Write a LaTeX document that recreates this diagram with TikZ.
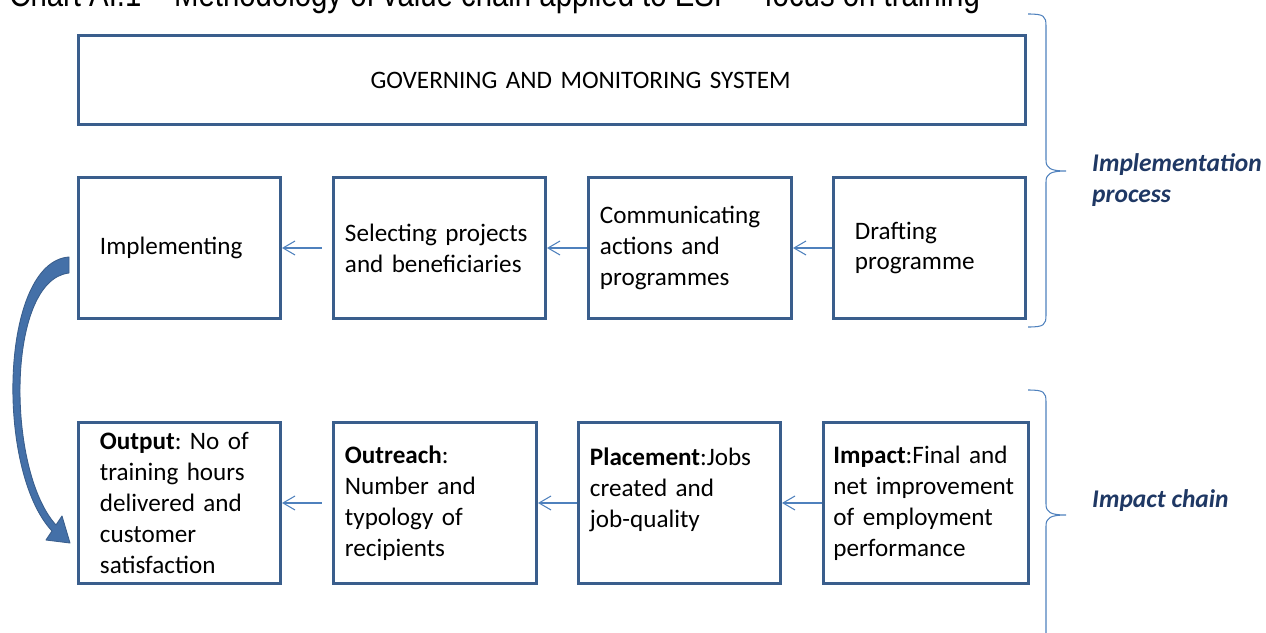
\documentclass[tikz,border=0pt]{standalone}
\usepackage{fontspec}
\setmainfont{Carlito}
\newfontfamily\titlefont{Liberation Sans}[FakeStretch=0.835]
\usepackage{tikz}
\usetikzlibrary{arrows.meta,positioning}
\usepackage{xcolor}
\definecolor{frameblue}{RGB}{58,94,140}
\definecolor{arrowblue}{RGB}{79,129,189}
\definecolor{bendblue}{RGB}{68,112,168}
\definecolor{labelblue}{RGB}{31,56,100}
\frenchspacing

\begin{document}
\begin{tikzpicture}[x=0.2mm, y=-0.2mm]
\tikzstyle{stage} = [rectangle, draw=frameblue, line width=1.7pt, align=left, inner ysep=0pt, font=\fontsize{14.3}{17.6}\selectfont];
\tikzstyle{flow} = [draw=arrowblue, line width=0.6pt, -{Straight Barb[length=2.4mm, width=2.8mm]}];
\tikzstyle{side} = [align=left, text=labelblue, font=\fontsize{14.5}{17.6}\selectfont\bfseries\itshape];
\tikzstyle{bracket} = [draw=arrowblue, line width=0.6pt];

\useasboundingbox (0,0) rectangle (1266,633);
\clip (0,0) rectangle (1266,633);

% heading, cut at the top edge
\node (title) [anchor=base west, inner sep=0pt, font=\titlefont\fontsize{20}{24}\selectfont] at (9,7) {Chart AI.1 – Methodology of value chain applied to ESF – focus on training};

% implementation process
\node (govern) [stage, align=right, minimum width=189.4mm, minimum height=17.8mm, inner xsep=47mm, text width=95.4mm] at (552,80) {GOVERNING AND MONITORING SYSTEM};

\node (impl) [stage, minimum width=40.4mm, minimum height=28.2mm, inner xsep=4.3mm, text width=31.8mm, below=10mm of govern.south west, anchor=north west] {Implementing};
\node (select) [stage, minimum width=42.4mm, minimum height=28.2mm, inner xsep=2.3mm, text width=37.8mm, right=10mm of impl] {Selecting projects\\and beneficiaries};
\node (comm) [stage, minimum width=40.6mm, minimum height=28.2mm, inner xsep=2.3mm, text width=36mm, right=8mm of select] {Communicating\\actions and\\programmes};
\node (draft) [stage, minimum width=38.4mm, minimum height=28.2mm, inner xsep=4.3mm, text width=29.8mm, right=7.8mm of comm] {Drafting\\programme};

% impact chain
\node (output) [stage, minimum width=40.4mm, minimum height=32.2mm, inner xsep=4.3mm, text width=31.8mm, below=20.2mm of impl.south west, anchor=north west] {\textbf{Output}: No of\\training hours\\delivered and\\customer\\satisfaction};
\node (outreach) [stage, minimum width=40.6mm, minimum height=32.2mm, inner xsep=2.3mm, text width=36mm, right=10mm of output] {\textbf{Outreach}:\\Number and\\typology of\\recipients};
\node (place) [stage, minimum width=40.4mm, minimum height=32.2mm, inner xsep=2.3mm, text width=35.8mm, right=7.8mm of outreach] {\textbf{Placement}:Jobs\\created and\\job-quality\\~};
\node (impact) [stage, minimum width=40.4mm, minimum height=32.2mm, inner xsep=2mm, text width=37mm, right=8mm of place] {\textbf{Impact}:Final and\\net improvement\\of employment\\performance};

% small arrows, right to left
\draw[flow, shorten <=2mm] (select) -- (impl);
\draw[flow] (comm) -- (select);
\draw[flow] (draft) -- (comm);
\draw[flow, shorten <=2mm] (outreach) -- (output);
\draw[flow] (place) -- (outreach);
\draw[flow] (impact) -- (place);

% bent block arrow down the left side
\filldraw[fill=bendblue, draw=frameblue, line width=0.5pt, line join=round]
  (69,257) .. controls (0,262) and (-5,470) .. (52,531)
  -- (46,540) -- (70,543) -- (62,516) -- (56,525)
  .. controls (6,470) and (6,280) .. (69,273) -- cycle;

% braces and their captions
\draw[bracket] (1028,14) .. controls (1044,14) and (1046,16) .. (1046,26)
  -- (1046,160) .. controls (1046,168) and (1050,171) .. (1066,171)
  .. controls (1050,171) and (1046,174) .. (1046,182)
  -- (1046,315) .. controls (1046,325) and (1044,327) .. (1028,327);
\draw[bracket] (1028,390) .. controls (1044,390) and (1046,392) .. (1046,402)
  -- (1046,504) .. controls (1046,512) and (1050,515) .. (1066,515)
  .. controls (1050,515) and (1046,518) .. (1046,526)
  -- (1046,640);
\node (implabel) [side, anchor=west] at (1086,180) {Implementation\\process};
\node (chainlabel) [side, anchor=west] at (1086,501) {Impact chain};
\end{tikzpicture}
\end{document}
